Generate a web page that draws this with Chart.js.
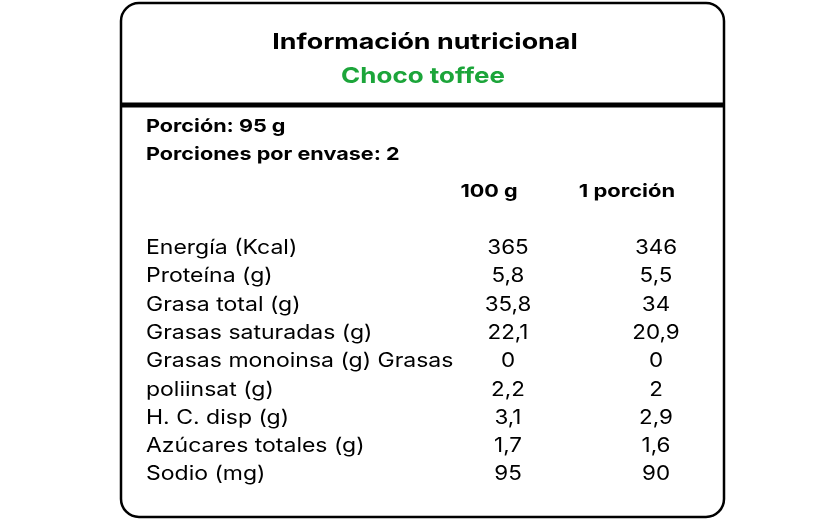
<!DOCTYPE html>
<html><head><meta charset="utf-8">
<script src="https://cdn.jsdelivr.net/npm/chart.js@4/dist/chart.umd.min.js"></script>
<style>html,body{margin:0;padding:0;background:#fff}#wrap{width:826px;height:531px}</style>
</head><body><div id="wrap"><canvas id="c"></canvas></div>
<script>
const title = 'Información nutricional';
const subtitle = 'Choco toffee';
const infoLines = ['Porción: 95 g', 'Porciones por envase: 2'];
const columns = ['100 g', '1 porción'];
const nutrients = ['Energía (Kcal)', 'Proteína (g)', 'Grasa total (g)', 'Grasas saturadas (g)',
  'Grasas monoinsa (g) Grasas', 'poliinsat (g)', 'H. C. disp (g)', 'Azúcares totales (g)', 'Sodio (mg)'];
const per100 = ['365', '5,8', '35,8', '22,1', '0', '2,2', '3,1', '1,7', '95'];
const perPortion = ['346', '5,5', '34', '20,9', '0', '2', '2,9', '1,6', '90'];

const FONT = 'Inter, "Open Sans", sans-serif';

// text stretched horizontally to get closer to the wide geometric face of the original
function wide(c, text, x, y, align, sx) {
  c.save();
  c.translate(x, y); c.scale(sx, 1);
  c.textAlign = align;
  c.fillText(text, 0, 0);
  c.restore();
}

const tablePlugin = {
  id: 'table',
  afterDraw(chart) {
    const c = chart.ctx, x = chart.scales.x, y = chart.scales.y;
    const px = v => x.getPixelForValue(v), py = v => y.getPixelForValue(v);
    c.save();
    c.strokeStyle = '#000'; c.lineWidth = 2.5;
    c.beginPath(); c.roundRect(px(121), py(3), px(724) - px(121), py(517) - py(3), 18); c.stroke();
    c.lineWidth = 5;
    c.beginPath(); c.moveTo(px(120), py(105)); c.lineTo(px(725), py(105)); c.stroke();

    c.textBaseline = 'middle';
    c.fillStyle = '#000'; c.font = 'bold 22px ' + FONT;
    wide(c, title, px(425), py(42), 'center', 1.22);
    c.fillStyle = '#1ca53a';
    wide(c, subtitle, px(423), py(76), 'center', 1.18);

    c.fillStyle = '#000'; c.font = 'bold 18px ' + FONT;
    infoLines.forEach((t, i) => wide(c, t, px(146), py(127 + i * 28), 'left', 1.2));
    wide(c, columns[0], px(489), py(192), 'center', 1.2);
    wide(c, columns[1], px(627), py(192), 'center', 1.22);

    c.font = '20px ' + FONT;
    nutrients.forEach((t, i) => {
      const yy = py(248 + i * 28.3);
      wide(c, t, px(146), yy, 'left', 1.15);
      wide(c, per100[i], px(508), yy, 'center', 1.12);
      wide(c, perPortion[i], px(656), yy, 'center', 1.12);
    });
    c.restore();
  }
};

new Chart(document.getElementById('c'), {
  type: 'scatter',
  data: { datasets: [{ data: [] }] },
  options: {
    responsive: true, maintainAspectRatio: false, animation: false,
    layout: { padding: 0 },
    plugins: { legend: { display: false }, tooltip: { enabled: false } },
    scales: {
      x: { type: 'linear', min: 0, max: 826, display: false },
      y: { type: 'linear', min: 0, max: 531, reverse: true, display: false }
    }
  },
  plugins: [tablePlugin]
});
</script></body></html>
